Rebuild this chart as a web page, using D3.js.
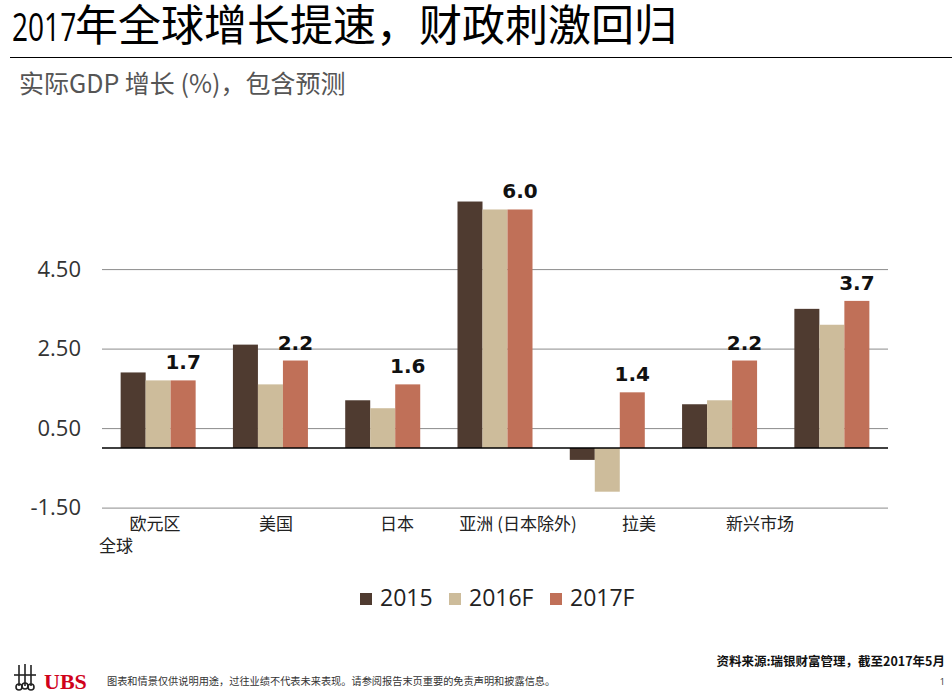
<!DOCTYPE html>
<html>
<head>
<meta charset="utf-8">
<script src="https://cdn.jsdelivr.net/npm/d3@7"></script>
<style>
  html, body { margin: 0; padding: 0; background: #fff; }
  svg { display: block; }
</style>
</head>
<body>
<svg id="chart" width="952" height="697"></svg>
<script>
// ---- data ----
const groups = ["欧元区", "美国", "日本", "亚洲 (日本除外)", "拉美", "新兴市场", "全球"];
const axisLabels = ["欧元区", "美国", "日本", "亚洲 (日本除外)", "拉美", "新兴市场"];
const wrappedLabel = "全球";
const seriesNames = ["2015", "2016F", "2017F"];
const values2015  = [1.9, 2.6, 1.2, 6.2, -0.3, 1.1, 3.5];
const values2016F = [1.7, 1.6, 1.0, 6.0, -1.1, 1.2, 3.1];
const values2017F = [1.7, 2.2, 1.6, 6.0, 1.4, 2.2, 3.7];
const yTicks = [-1.5, 0.5, 2.5, 4.5];
const colors = ["#4f3b30", "#cdbc9b", "#c07058"];

const title = "年全球增长提速，财政刺激回归";
const titleYear = "2017";
const subtitle = "实际GDP 增长 (%)，包含预测";
const source = "资料来源:瑞银财富管理，截至2017年5月";
const disclaimer = "图表和情景仅供说明用途，过往业绩不代表未来表现。请参阅报告末页重要的免责声明和披露信息。";

const series = [values2015, values2016F, values2017F];

const svg = d3.select("#chart");
const CJK = "'Noto Sans CJK SC', 'Noto Sans', sans-serif";
const LAT = "'Open Sans', 'Noto Sans', sans-serif";

// ---- title ----
svg.append("text").attr("transform", "translate(12,41) scale(0.72,1)")
  .style("font-family", LAT).style("font-size", "39px").attr("fill", "#000")
  .text(titleYear);
svg.append("text").attr("x", 75).attr("y", 41)
  .style("font-family", CJK).style("font-size", "43px").attr("fill", "#000")
  .text(title);
svg.append("line").attr("x1", 10).attr("x2", 952).attr("y1", 57.5).attr("y2", 57.5)
  .attr("stroke", "#000").attr("stroke-width", 1.2);
svg.append("text").attr("x", 19).attr("y", 93)
  .style("font-family", CJK).style("font-size", "25px").attr("fill", "#555")
  .text(subtitle);

// ---- scales ----
const left = 102, right = 888;
const y = d3.scaleLinear().domain([-1.5, 4.5]).range([507.6, 269.1]);
const x0 = d3.scaleBand().domain(groups).range([left, right]).paddingInner(0.332).paddingOuter(0.166);
const x1 = d3.scaleBand().domain(seriesNames).range([0, x0.bandwidth()]);
const xl = d3.scalePoint().domain(axisLabels).range([155, 760]);

// ---- grid + tick labels ----
const yAxis = d3.axisLeft(y).tickValues(yTicks).tickSize(-(right - left)).tickPadding(21)
  .tickFormat(d => d.toFixed(2));
const gy = svg.append("g").attr("transform", `translate(${left},0)`).call(yAxis);
gy.select(".domain").remove();
gy.selectAll(".tick line").attr("stroke", "#8c8c8c").attr("stroke-width", 1);
gy.selectAll(".tick text").style("font-family", LAT).style("font-size", "22px").attr("fill", "#333");

// ---- bars ----
const rows = groups.map((g, i) => ({ g, vals: series.map((s, k) => ({ k, name: seriesNames[k], v: s[i] })) }));
const gg = svg.append("g").selectAll("g").data(rows).join("g")
  .attr("transform", d => `translate(${x0(d.g)},0)`);
gg.selectAll("rect").data(d => d.vals).join("rect")
  .attr("x", d => x1(d.name))
  .attr("width", x1.bandwidth())
  .attr("y", d => y(Math.max(0, d.v)))
  .attr("height", d => Math.abs(y(d.v) - y(0)))
  .attr("fill", d => colors[d.k]);

// zero line
svg.append("line").attr("x1", left).attr("x2", right).attr("y1", y(0)).attr("y2", y(0))
  .attr("stroke", "#000").attr("stroke-width", 1.6);

// ---- value labels (2017F) ----
svg.append("g").selectAll("text").data(groups).join("text")
  .attr("x", (g) => x0(g) + x1("2017F") + x1.bandwidth() / 2)
  .attr("y", (g, i) => y(values2017F[i]) - 11)
  .attr("text-anchor", "middle")
  .style("font-family", "'DejaVu Sans', sans-serif").style("font-weight", "bold").style("font-size", "20px")
  .attr("fill", "#111")
  .text((g, i) => d3.format(".1f")(values2017F[i]));

// ---- category labels ----
svg.append("g").selectAll("text").data(axisLabels).join("text")
  .attr("x", d => xl(d)).attr("y", 530).attr("text-anchor", "middle")
  .style("font-family", CJK).style("font-size", "17px").attr("fill", "#222")
  .text(d => d);
svg.append("text").attr("x", left - 3).attr("y", 552)
  .style("font-family", CJK).style("font-size", "17px").attr("fill", "#222")
  .text(wrappedLabel);

// ---- legend ----
const legendX = [360, 449, 550];
const lg = svg.append("g").selectAll("g").data(seriesNames).join("g")
  .attr("transform", (d, i) => `translate(${legendX[i]},0)`);
lg.append("rect").attr("x", 0).attr("y", 593).attr("width", 12).attr("height", 12)
  .attr("fill", (d, i) => colors[i]);
lg.append("text").attr("x", 20).attr("y", 606)
  .style("font-family", LAT).style("font-size", "23px").attr("fill", "#222")
  .text(d => d);

// ---- footer ----
svg.append("text").attr("x", 945).attr("y", 666).attr("text-anchor", "end")
  .style("font-family", CJK).style("font-size", "12.5px").style("font-weight", "bold").attr("fill", "#111")
  .text(source);
svg.append("text").attr("x", 107).attr("y", 685)
  .style("font-family", CJK).style("font-size", "10.2px").attr("fill", "#333")
  .text(disclaimer);
svg.append("text").attr("x", 945).attr("y", 685).attr("text-anchor", "end")
  .style("font-family", LAT).style("font-size", "9px").attr("fill", "#333")
  .text("1");
// UBS logo
svg.append("text").attr("x", 44).attr("y", 689)
  .style("font-family", "'Liberation Serif', serif").style("font-size", "22px").style("font-weight", "bold")
  .attr("fill", "#d0021b").text("UBS");
const logo = svg.append("g").attr("stroke", "#222").attr("stroke-width", 1.6).attr("fill", "none");
[[19, 1], [25, 0], [31, 1]].forEach(([cx, o]) => {
  logo.append("line").attr("x1", cx).attr("x2", cx).attr("y1", 664 + o).attr("y2", 686);
  logo.append("circle").attr("cx", cx).attr("cy", 686 + o).attr("r", 3);
});
logo.append("line").attr("x1", 14).attr("x2", 36).attr("y1", 675).attr("y2", 675);
</script>
</body>
</html>
